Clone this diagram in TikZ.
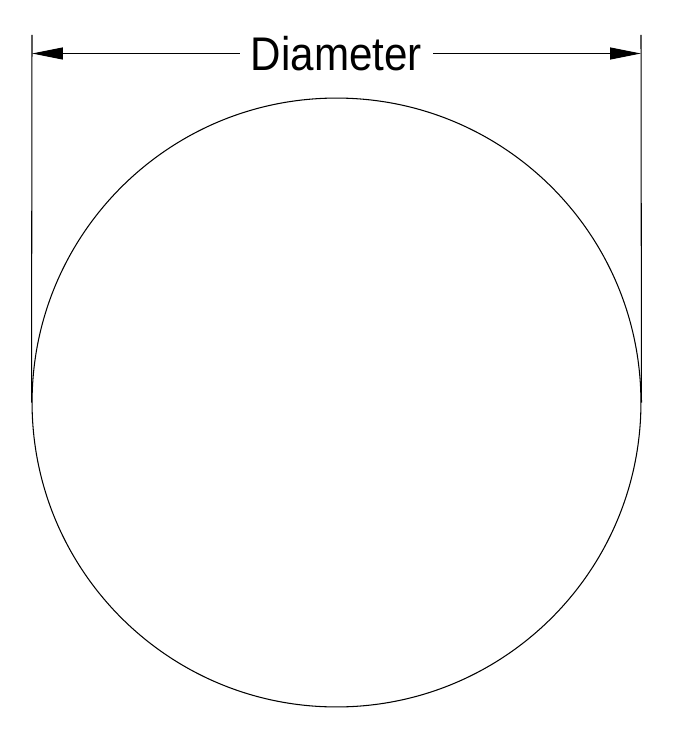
\documentclass[tikz,border=0pt]{standalone}
\usepackage{fontspec}
\setmainfont{Liberation Sans}
\usepackage{tikz}
\usetikzlibrary{arrows.meta, positioning}

\begin{document}
\begin{tikzpicture}[x=0.02cm, y=-0.02cm, >={Triangle[length=0.62cm, width=0.24cm]},
        line width=0.6pt]
    \useasboundingbox (0,0) rectangle (675,740);

    % The circle
    \node (disc) [circle, draw, minimum size=12.18cm, inner sep=0pt] at (336.5,402.5) {};

    % Extension lines
    \coordinate (E1) at (32,35);
    \coordinate (E2) at (641,35);
    \draw (disc.west) -- (E1);
    \draw (disc.east) -- (E2);

    % Dimension line
    \coordinate (D1) at (32,53.5);
    \coordinate (D2) at (641,53.5);
    \draw [<->] (D1) -- (D2)
        node (lbl) [midway, fill=white, inner xsep=0.22cm, inner ysep=0pt,
            font=\fontsize{24pt}{24pt}\selectfont] {\scalebox{1}[1.12]{Diameter}};
\end{tikzpicture}
\end{document}
